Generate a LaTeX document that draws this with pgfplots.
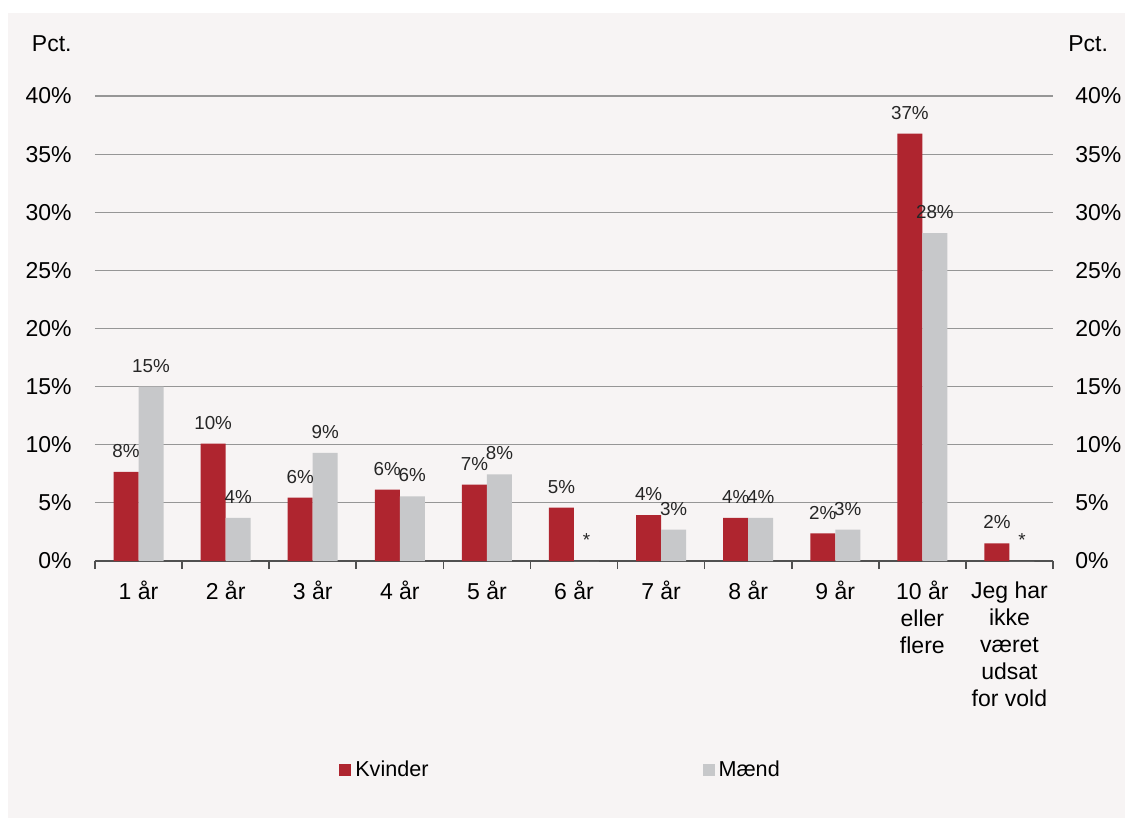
\documentclass[border=0pt]{standalone}
\usepackage{pgfplots}
\pgfplotsset{compat=1.18}
\usepackage{fontspec}
\setmainfont{Liberation Sans}
\definecolor{bgpanel}{HTML}{F7F4F4}
\definecolor{kred}{HTML}{AF252F}
\definecolor{mgray}{HTML}{C7C8CA}
\definecolor{gridc}{HTML}{969696}
\definecolor{axisc}{HTML}{505050}
\newcommand\tickfont{\fontsize{11.5}{13.5}\selectfont}
\begin{document}
\begin{tikzpicture}
% 1px = 0.5pt; axis box 958x465 px, lower left at (95,561) px
\fill[white] (-47.5pt,-129.5pt) rectangle (518.5pt,280.5pt);
\fill[bgpanel] (-43.5pt,-128.5pt) rectangle (515pt,274pt);
\begin{axis}[at={(0,0)}, anchor=south west, scale only axis, width=479pt, height=232.5pt,
    ybar=0pt, bar width=12.5pt,
    xmin=0.5, xmax=11.5, ymin=0, ymax=40,
    axis x line*=bottom, axis y line*=left,
    x axis line style={draw=axisc, line width=0.8pt, -},
    y axis line style={draw=none},
    tick align=outside, major tick length=0pt,
    xtick={1,...,11},
    xticklabels={1 år, 2 år, 3 år, 4 år, 5 år, 6 år, 7 år, 8 år, 9 år,
      {10 år\\eller\\flere}, {Jeg har\\ikke\\været\\udsat\\for vold}},
    xticklabel style={align=center, font=\tickfont, anchor=north, inner sep=0pt, yshift=-10pt},
    extra x ticks={0.5,1.5,...,11.5}, extra x tick labels={},
    extra x tick style={major tick length=4pt, tick style={draw=axisc, line width=0.8pt}},
    ytick={0,5,...,40},
    yticklabel={\pgfmathprintnumber{\tick}\%},
    yticklabel style={font=\tickfont, anchor=east, inner sep=0pt, xshift=-11.5pt},
    /pgf/number format/assume math mode=true,
    ymajorgrids, grid style={gridc, line width=0.6pt},
    point meta=explicit symbolic,
    nodes near coords={\pgfplotspointmeta},
    nodes near coords style={font=\fontsize{9.4}{11}\selectfont, anchor=base, inner sep=0pt, yshift=7.2pt, text=black!85},
    legend columns=2,
    legend style={at={(0.487,-0.449)}, anchor=center, draw=none, fill=none, font=\fontsize{10.8}{13}\selectfont,
      /tikz/every even column/.append style={column sep=135pt}},
    legend image code/.code={\fill[#1] (0pt,-3pt) rectangle (6pt,3pt);},
    clip=false]
  \addplot[fill=kred, draw=none] coordinates {
    (1,7.66) [8\%] (2,10.1) [10\%] (3,5.46) [6\%] (4,6.15) [6\%] (5,6.58) [7\%]
    (6,4.6) [5\%] (7,3.95) [4\%] (8,3.7) [4\%] (9,2.37) [2\%] (10,36.77) [37\%] (11,1.52) [2\%]};
  \addlegendentry{Kvinder}
  \addplot[fill=mgray, draw=none] coordinates {
    (1,15.0) [15\%] (2,3.7) [4\%] (3,9.3) [9\%] (4,5.57) [6\%] (5,7.46) [8\%]
    (6,0) [*] (7,2.7) [3\%] (8,3.7) [4\%] (9,2.7) [3\%] (10,28.2) [28\%] (11,0) [*]};
  \addlegendentry{Mænd}
  \node[anchor=base east, inner sep=0pt, font=\tickfont] at ([xshift=-11.5pt, yshift=22.4pt]rel axis cs:0,1) {Pct.};
  \node[anchor=base west, inner sep=0pt, font=\tickfont] at ([xshift=7.5pt, yshift=22.4pt]rel axis cs:1,1) {Pct.};
\end{axis}
\begin{axis}[at={(0,0)}, anchor=south west, scale only axis, width=479pt, height=232.5pt,
    xmin=0.5, xmax=11.5, ymin=0, ymax=40,
    hide x axis, axis y line*=right, y axis line style={draw=none},
    major tick length=0pt,
    ytick={0,5,...,40},
    yticklabel={\pgfmathprintnumber{\tick}\%},
    yticklabel style={font=\tickfont, anchor=west, inner sep=0pt, xshift=11pt},
    /pgf/number format/assume math mode=true]
\end{axis}
\pgfresetboundingbox
\path (-47.5pt,-129.5pt) rectangle (518.5pt,280.5pt);
\end{tikzpicture}
\end{document}
